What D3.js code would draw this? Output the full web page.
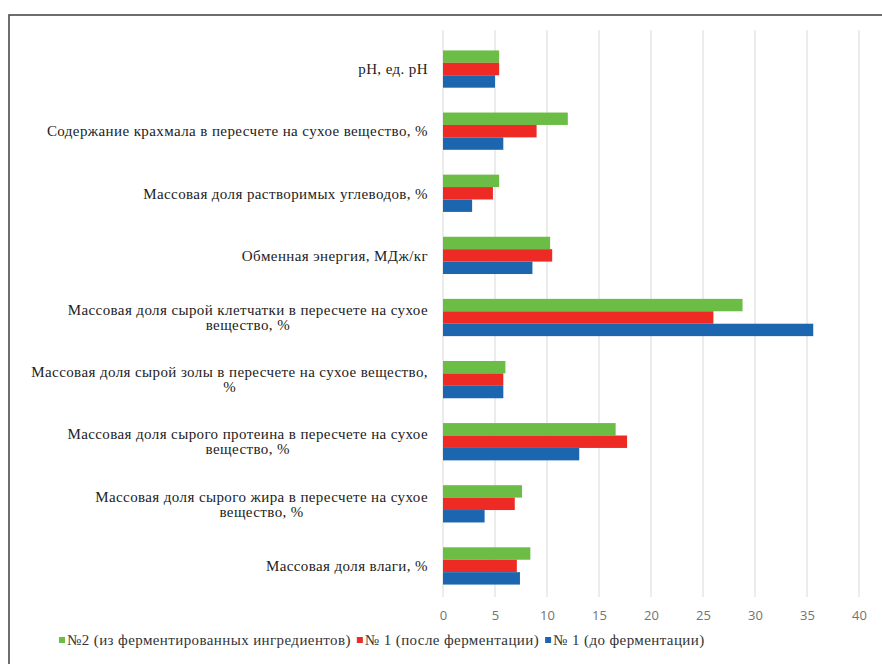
<!DOCTYPE html>
<html>
<head>
<meta charset="utf-8">
<script src="https://cdn.jsdelivr.net/npm/d3@7"></script>
<style>
  body { margin: 0; background: #fff; }
  svg { display: block; }
  .serif { font-family: 'Liberation Serif', 'DejaVu Serif', 'Times New Roman', serif; letter-spacing: 0.4px; }
</style>
</head>
<body>
<svg id="chart"></svg>
<script>
const W = 882, H = 664;

// categories, top to bottom (label lines as wrapped in the picture)
const categories = [
  ['pH, ед. pH'],
  ['Содержание крахмала в пересчете на сухое вещество,  %'],
  ['Массовая доля растворимых углеводов, %'],
  ['Обменная энергия, МДж/кг'],
  ['Массовая доля сырой клетчатки в пересчете на сухое', 'вещество, %'],
  ['Массовая доля сырой золы в пересчете на сухое вещество,', '%'],
  ['Массовая доля сырого протеина в пересчете на сухое', 'вещество, %'],
  ['Массовая доля сырого жира в пересчете на сухое', 'вещество,  %'],
  ['Массовая доля влаги, %']
];

const seriesNames = [
  '№2 (из ферментированных ингредиентов)',
  '№ 1 (после ферментации)',
  '№ 1 (до ферментации)'
];
const seriesColors = ['#6cbd45', '#ee2a24', '#1c66b0'];

// values, same order as categories
const no2Fermented = [5.4, 12.0, 5.4, 10.3, 28.8, 6.0, 16.6, 7.6, 8.4];
const no1After     = [5.4,  9.0, 4.8, 10.5, 26.0, 5.8, 17.7, 6.9, 7.1];
const no1Before    = [5.0,  5.8, 2.8,  8.6, 35.6, 5.8, 13.1, 4.0, 7.4];
const seriesValues = [no2Fermented, no1After, no1Before];

const xTicks = [0, 5, 10, 15, 20, 25, 30, 35, 40];

const svg = d3.select('#chart')
  .attr('width', W)
  .attr('height', H)
  .attr('viewBox', `0 0 ${W} ${H}`);

// outer frame (only top and left edges show inside the picture)
svg.append('rect')
  .attr('x', 9).attr('y', 15)
  .attr('width', W + 20).attr('height', H + 20)
  .attr('fill', 'none')
  .attr('stroke', '#4a4a4a')
  .attr('stroke-width', 1.6);

const x = d3.scaleLinear().domain([0, 40]).range([443, 859]);
const y = d3.scaleBand()
  .domain(d3.range(categories.length))
  .range([38, 597])
  .paddingInner(0.4)
  .paddingOuter(0.2);
const ySub = d3.scaleBand()
  .domain(d3.range(seriesNames.length))
  .range([0, y.bandwidth()]);

// gridlines
svg.append('g')
  .selectAll('line')
  .data(xTicks)
  .join('line')
  .attr('x1', d => x(d)).attr('x2', d => x(d))
  .attr('y1', 30).attr('y2', 597)
  .attr('stroke', '#d9d9d9')
  .attr('stroke-width', 1);

// bars
const groups = svg.append('g')
  .selectAll('g')
  .data(categories.map((c, i) => i))
  .join('g')
  .attr('transform', i => `translate(0,${y(i)})`);

groups.selectAll('rect')
  .data(i => seriesValues.map((vals, s) => ({s, v: vals[i]})))
  .join('rect')
  .attr('x', x(0))
  .attr('y', d => ySub(d.s))
  .attr('width', d => x(d.v) - x(0))
  .attr('height', ySub.bandwidth())
  .attr('fill', d => seriesColors[d.s]);

// x axis tick labels
const xAxis = d3.axisBottom(x).tickValues(xTicks).tickSize(0).tickPadding(0);
const ax = svg.append('g')
  .attr('transform', 'translate(0,611)')
  .call(xAxis);
ax.select('.domain').remove();
ax.selectAll('text')
  .attr('fill', '#737373')
  .attr('font-family', '"Open Sans", sans-serif')
  .attr('font-size', 13);

// category labels: block right-aligned, lines centered inside block
const labelRight = 428;
const lineH = 15;
const labelG = svg.append('g').attr('fill', '#222');

categories.forEach((lines, i) => {
  const cy = y(i) + y.bandwidth() / 2;
  const texts = lines.map((ln, k) => labelG.append('text')
    .attr('class', 'serif')
    .attr('font-size', 15)
    .attr('y', cy + (k - (lines.length - 1) / 2) * lineH)
    .attr('dy', '0.35em')
    .attr('text-anchor', 'middle')
    .text(ln));
  const maxW = d3.max(texts, t => t.node().getComputedTextLength());
  texts.forEach(t => t.attr('x', labelRight - maxW / 2));
});

// legend
const legend = svg.append('g')
  .attr('transform', 'translate(59,640)')
  .attr('fill', '#333');

let lx = 0;
seriesNames.forEach((name, s) => {
  legend.append('rect')
    .attr('x', lx).attr('y', -3)
    .attr('width', 6).attr('height', 6)
    .attr('fill', seriesColors[s]);
  const t = legend.append('text')
    .attr('class', 'serif')
    .attr('font-size', 15)
    .attr('x', lx + 8)
    .attr('dy', '0.35em')
    .text(name);
  lx += 8 + t.node().getComputedTextLength() + 6;
});
</script>
</body>
</html>
